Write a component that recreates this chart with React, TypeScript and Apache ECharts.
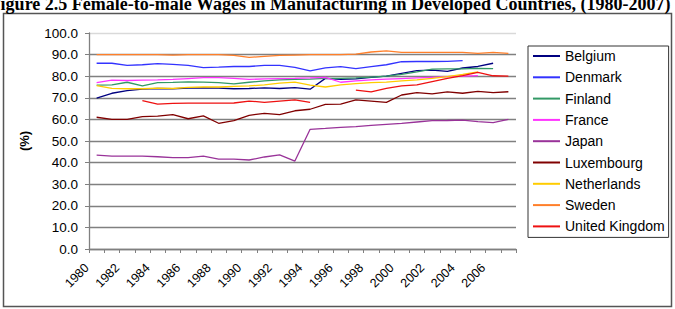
import React, { useEffect, useRef } from "react";
import * as echarts from "echarts";

// Years on the category axis
const years: string[] = [];
for (let y = 1980; y <= 2007; y++) years.push(String(y));

// Female-to-male wage ratio in manufacturing (%), one array per country
const belgium = [69.8, 72.1, 73.3, 74.0, 74.3, 74.2, 74.5, 74.6, 74.5, 74.2, 74.3, 74.6, 74.3, 74.7, 74.0, 79.0, 78.5, 78.8, 79.5, 80.0, 81.3, 82.6, 82.8, 82.2, 83.8, 84.5, 86.0, null];
const denmark = [86.0, 86.0, 85.0, 85.3, 85.8, 85.5, 85.0, 84.0, 84.2, 84.5, 84.5, 85.0, 85.0, 84.1, 82.5, 83.9, 84.4, 83.5, 84.4, 85.3, 86.7, 86.8, 86.8, 86.9, 87.2, null, null, null];
const finland = [75.9, 76.0, 77.2, 75.5, 77.0, 77.1, 77.4, 77.3, 77.0, 76.4, 77.2, 77.8, 78.3, 78.5, 78.6, 79.0, 79.0, 79.2, 79.6, 80.0, 80.8, 82.0, 83.3, 83.4, 83.4, 83.6, 83.5, null];
const france = [77.0, 78.2, 78.0, 78.2, 78.3, 78.5, 78.9, 79.3, 79.3, 79.0, 78.5, 78.8, 78.9, 79.0, 79.2, 79.5, 77.2, 77.8, 78.3, 78.6, 78.9, 79.2, 79.5, 79.8, 80.0, 80.3, null, null];
const japan = [43.5, 43.0, 43.0, 43.0, 42.7, 42.3, 42.3, 43.0, 41.6, 41.6, 41.2, 42.6, 43.6, 40.7, 55.4, 55.8, 56.3, 56.7, 57.2, 57.7, 58.2, 58.8, 59.4, 59.5, 59.7, 59.0, 58.5, 60.0];
const luxembourg = [61.0, 60.0, 60.0, 61.3, 61.5, 62.2, 60.3, 61.6, 58.2, 59.4, 61.9, 62.8, 62.2, 64.0, 64.7, 67.0, 67.1, 69.0, 68.5, 67.9, 71.3, 72.4, 71.8, 72.7, 72.1, 73.0, 72.4, 72.8];
const netherlands = [75.6, 74.4, 74.2, 74.2, 74.5, 74.3, 74.8, 75.0, 75.0, 75.3, 75.5, 76.0, 76.8, 77.3, 75.9, 75.0, 76.0, 76.6, 77.0, 77.3, 77.8, 78.3, 79.0, 79.8, 80.8, 82.0, null, null];
const sweden = [90.0, 90.0, 90.0, 90.0, 90.0, 89.8, 90.0, 90.0, 90.0, 89.6, 88.7, 89.2, 89.6, 89.8, 90.0, 90.0, 90.0, 90.2, 91.2, 91.7, 91.0, 91.0, 91.0, 91.0, 91.0, 90.6, 91.0, 90.6];
const unitedKingdom = [null, null, null, 68.7, 67.1, 67.4, 67.5, 67.5, 67.5, 67.6, 68.5, 67.9, 68.5, 69.0, 67.9, null, null, 73.6, 72.7, 74.4, 75.5, 76.0, 77.5, 79.0, 80.3, 81.8, 80.2, 80.0];

const countries = ["Belgium", "Denmark", "Finland", "France", "Japan", "Luxembourg", "Netherlands", "Sweden", "United Kingdom"];
const seriesValues = [belgium, denmark, finland, france, japan, luxembourg, netherlands, sweden, unitedKingdom];
const colors = ["#000080", "#3333FF", "#339966", "#FF33FF", "#993399", "#800000", "#FFCC00", "#FF7F2A", "#EE1111"];

const yTicks = [0, 10, 20, 30, 40, 50, 60, 70, 80, 90, 100];

const TITLE = "Figure 2.5 Female-to-male Wages in Manufacturing in Developed Countries, (1980-2007)";
const SANS = "Liberation Sans";
// non-breaking spaces appended to rotated year labels so they sit down-left of the category
const LABEL_TAIL = "\u00A0\u00A0\u00A0\u00A0";

export default function App() {
  const ref = useRef<HTMLDivElement>(null);

  useEffect(() => {
    if (!ref.current) return;
    const chart = echarts.init(ref.current, null, { renderer: "svg" });

    const gridColors = yTicks.map((v) => (v === 100 ? "#d9d9d9" : "#808080"));

    chart.setOption({
      animation: false,
      backgroundColor: "#ffffff",
      color: colors,
      graphic: [
        {
          type: "rect",
          shape: { x: 3.5, y: 13.5, width: 668, height: 293 },
          style: { fill: "none", stroke: "#555555", lineWidth: 1.5 },
          z: -1,
        },
        {
          type: "text",
          x: 330,
          y: 12.5,
          style: {
            text: TITLE,
            font: 'bold 18px "Liberation Serif"',
            fill: "#000000",
            align: "center",
            verticalAlign: "bottom",
          },
        },
      ],
      grid: { left: 89, right: 159, top: 33, bottom: 60, containLabel: false },
      legend: {
        orient: "vertical",
        left: 528,
        top: 46,
        data: countries,
        icon: "rect",
        itemWidth: 27,
        itemHeight: 2,
        itemGap: 7.3,
        padding: [3, 4, 4, 5],
        borderColor: "#333333",
        borderWidth: 1,
        textStyle: { fontFamily: SANS, fontSize: 14, color: "#000000", lineHeight: 14 },
      },
      xAxis: {
        type: "category",
        data: years,
        boundaryGap: true,
        axisLine: { lineStyle: { color: "#808080", width: 1.3 } },
        axisTick: { show: true, interval: 0, length: 4, lineStyle: { color: "#808080" } },
        axisLabel: {
          interval: 1,
          rotate: 45,
          margin: 7,
          fontFamily: SANS,
          fontSize: 12.5,
          color: "#000000",
          formatter: (v: string) => v + LABEL_TAIL,
        },
        splitLine: { show: false },
      },
      yAxis: {
        type: "value",
        min: 0,
        max: 100,
        interval: 10,
        name: "(%)",
        nameLocation: "middle",
        nameGap: 58,
        nameRotate: 90,
        nameTextStyle: { fontFamily: SANS, fontSize: 13, fontWeight: "bold", color: "#000000" },
        axisLine: { show: true, lineStyle: { color: "#808080", width: 1.3 } },
        axisTick: { show: true, length: 4, lineStyle: { color: "#808080" } },
        axisLabel: {
          margin: 11,
          fontFamily: SANS,
          fontSize: 13.5,
          color: "#000000",
          formatter: (v: number) => v.toFixed(1),
        },
        splitLine: { show: true, lineStyle: { color: gridColors, width: 1.3 } },
      },
      series: countries.map((name, i) => ({
        name,
        type: "line",
        data: seriesValues[i],
        symbol: "none",
        connectNulls: false,
        lineStyle: { width: 1.3, color: colors[i] },
        itemStyle: { color: colors[i] },
        emphasis: { disabled: true },
      })),
    });

    return () => chart.dispose();
  }, []);

  return (
    <div
      ref={ref}
      style={{ position: "fixed", left: 0, top: 0, width: 675, height: 309, background: "#fff" }}
    />
  );
}
